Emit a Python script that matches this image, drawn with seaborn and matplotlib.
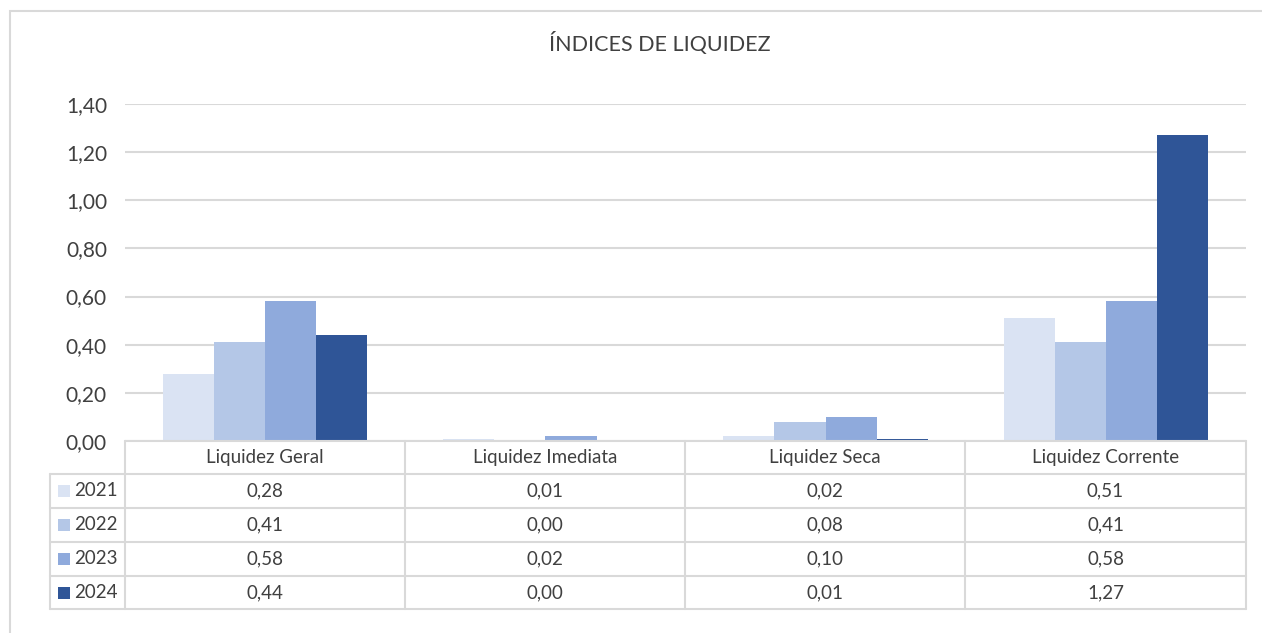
import numpy as np
import pandas as pd
import seaborn as sns
import matplotlib.pyplot as plt
from matplotlib.patches import Rectangle
from matplotlib.lines import Line2D

categories = ["Liquidez Geral", "Liquidez Imediata", "Liquidez Seca", "Liquidez Corrente"]
years = ["2021", "2022", "2023", "2024"]
v2021 = [0.28, 0.01, 0.02, 0.51]
v2022 = [0.41, 0.00, 0.08, 0.41]
v2023 = [0.58, 0.02, 0.10, 0.58]
v2024 = [0.44, 0.00, 0.01, 1.27]
yticks = [0.0, 0.2, 0.4, 0.6, 0.8, 1.0, 1.2, 1.4]
colors = ["#DAE3F3", "#B4C7E7", "#8FAADC", "#2F5597"]

series = [v2021, v2022, v2023, v2024]
df = pd.DataFrame({
    "cat": np.repeat([categories], 4, axis=0).ravel(),
    "year": np.repeat(years, len(categories)),
    "val": np.concatenate(series),
})

sns.set_style("white")
plt.rcParams["font.family"] = ["Lato", "DejaVu Sans"]

W, H = 1262, 633
fig = plt.figure(figsize=(W / 100, H / 100), dpi=100)

def fx(px):
    return px / W

def fy(py):
    return 1 - py / H

ax = fig.add_axes([fx(125), fy(441), fx(1246) - fx(125), fy(104) - fy(441)])
sns.barplot(data=df, x="cat", y="val", hue="year", order=categories, hue_order=years,
            palette=colors, width=0.73, saturation=1, linewidth=0, ax=ax, legend=False)
ax.set_ylim(0, 1.4)
ax.set_xlim(-0.5, 3.5)
ax.set_yticks(yticks)
ax.set_yticklabels([f"{t:.2f}".replace(".", ",") for t in yticks], fontsize=15, color="#404040")
ax.set_xticks([])
ax.set_xlabel("")
ax.set_ylabel("")
ax.grid(axis="y", color="#D9D9D9", linewidth=1.5)
ax.set_axisbelow(True)
for s in ax.spines.values():
    s.set_visible(False)
ax.tick_params(axis="y", length=0, pad=13)

# outer chart border
fig.add_artist(Rectangle((fx(10), fy(700)), fx(1300), fy(11) - fy(700), transform=fig.transFigure,
                         fill=False, edgecolor="#D9D9D9", linewidth=1.5))

fig.text(fx(660), fy(44), "ÍNDICES DE LIQUIDEZ", ha="center", va="center", fontsize=15.5, color="#404040")

# data table
lc = "#D9D9D9"
cols = [125, 405, 685, 965, 1246]
rows = [441, 474, 508, 542, 576, 609]

def line(x0, y0, x1, y1):
    fig.add_artist(Line2D([fx(x0), fx(x1)], [fy(y0), fy(y1)], transform=fig.transFigure,
                          color=lc, linewidth=1.5))

line(125, rows[0], 1246, rows[0])
for r in rows[1:]:
    line(50, r, 1246, r)
for c in cols:
    line(c, rows[0], c, rows[-1])
line(50, rows[1], 50, rows[-1])

for j, cat in enumerate(categories):
    xc = (cols[j] + cols[j + 1]) / 2
    fig.text(fx(xc), fy((rows[0] + rows[1]) / 2), cat, ha="center", va="center",
             fontsize=13.5, color="#404040")
for i, yr in enumerate(years):
    yc = (rows[i + 1] + rows[i + 2]) / 2
    fig.add_artist(Rectangle((fx(58), fy(yc + 6)), fx(12), fy(yc - 6) - fy(yc + 6),
                             transform=fig.transFigure, facecolor=colors[i], edgecolor="none"))
    fig.text(fx(74), fy(yc), yr, ha="left", va="center", fontsize=13.5, color="#404040")
    for j in range(len(categories)):
        xc = (cols[j] + cols[j + 1]) / 2
        fig.text(fx(xc), fy(yc), f"{series[i][j]:.2f}".replace(".", ","), ha="center",
                 va="center", fontsize=13.5, color="#404040")

fig.savefig("out.png", dpi=100)
